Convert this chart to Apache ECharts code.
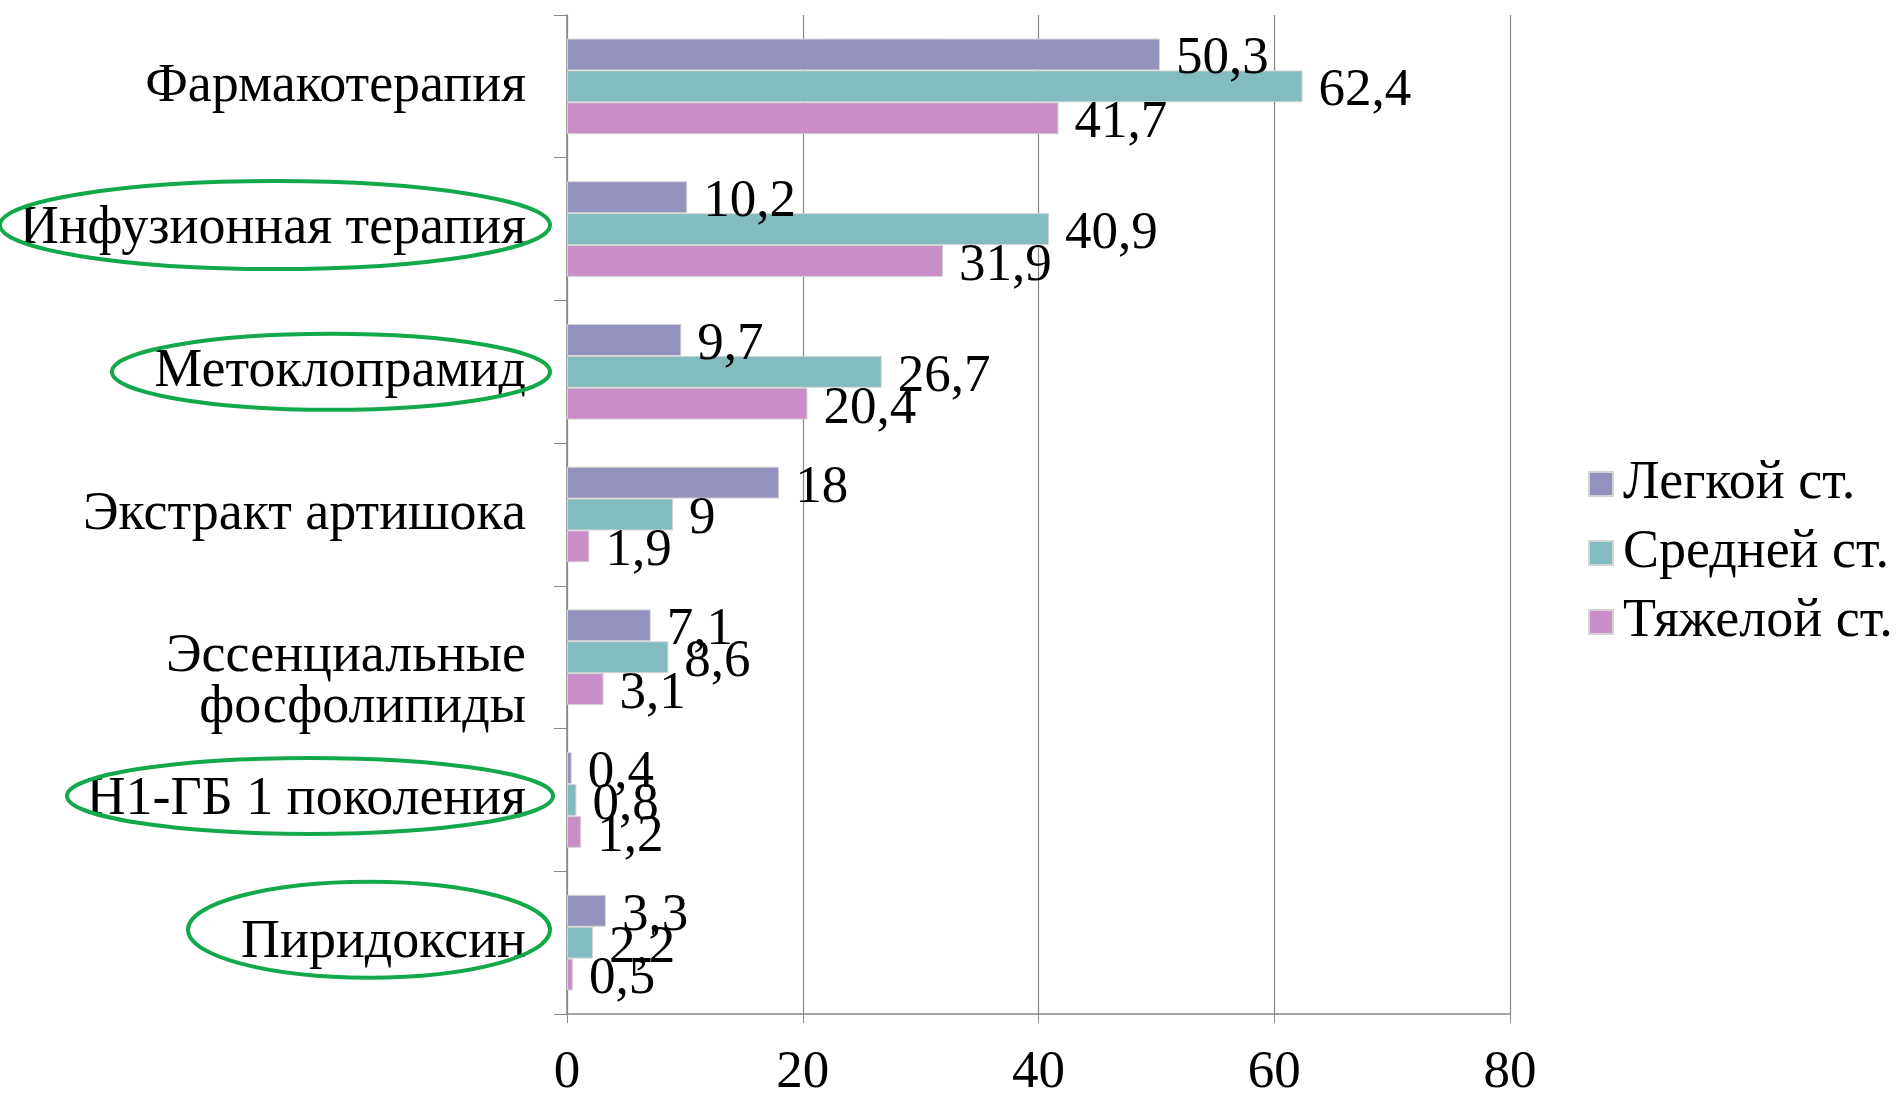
<!DOCTYPE html>
<html><head><meta charset="utf-8">
<script src="https://cdn.jsdelivr.net/npm/echarts@6/dist/echarts.min.js"></script>
<style>html,body{margin:0;padding:0;background:#fff}#c{width:1897px;height:1094px}</style>
</head><body><div id="c"></div>
<script>
const categories = ['Фармакотерапия','Инфузионная терапия','Метоклопрамид','Экстракт артишока','Эссенциальные\nфосфолипиды','Н1-ГБ 1 поколения','Пиридоксин'];
const seriesNames = ['Легкой ст.','Средней ст.','Тяжелой ст.'];
const lightValues = [50.3, 10.2, 9.7, 18, 7.1, 0.4, 3.3];
const mediumValues = [62.4, 40.9, 26.7, 9, 8.6, 0.8, 2.2];
const severeValues = [41.7, 31.9, 20.4, 1.9, 3.1, 1.2, 0.5];
const xTicks = [0, 20, 40, 60, 80];
const highlighted = ['Инфузионная терапия','Метоклопрамид','Н1-ГБ 1 поколения','Пиридоксин'];

const FONT = '"Liberation Serif", "DejaVu Serif", serif';
const colors = ['#9391BE', '#83BCBF', '#C98DC8'];
const chart = echarts.init(document.getElementById('c'));

function mkSeries(name, data, color) {
  return {
    name, type: 'bar', data,
    barGap: '0%', barCategoryGap: '33%',
    itemStyle: { color, borderColor: '#d4d4d4', borderWidth: 1 },
    label: {
      show: true, position: 'right', distance: 16, offset: [0, 5],
      fontFamily: FONT, fontSize: 53, color: '#000',
      formatter: p => String(p.value).replace('.', ',')
    },
    emphasis: { disabled: true }
  };
}

chart.setOption({
  animation: false,
  backgroundColor: '#fff',
  textStyle: { fontFamily: FONT },
  grid: { left: 567, right: 387, top: 15, bottom: 80, containLabel: false, outerBoundsMode: 'none' },
  legend: {
    orient: 'vertical', left: 1583, top: 452,
    itemWidth: 24, itemHeight: 24, itemGap: 15,
    icon: 'rect',
    textStyle: { fontFamily: FONT, fontSize: 54, color: '#000', padding: [0, 0, 0, 5] },
    data: seriesNames
  },
  xAxis: {
    type: 'value', min: xTicks[0], max: xTicks[xTicks.length - 1], interval: xTicks[1] - xTicks[0],
    axisLine: { show: true, lineStyle: { color: '#888', width: 1.5 } },
    axisTick: { show: true, length: 9, lineStyle: { color: '#888' } },
    splitLine: { show: true, lineStyle: { color: '#888', width: 1.2 } },
    axisLabel: { fontFamily: FONT, fontSize: 53, color: '#000', margin: 33 }
  },
  yAxis: {
    type: 'category', inverse: true, data: categories,
    axisLine: { show: true, lineStyle: { color: '#888', width: 1.5 } },
    axisTick: { show: true, length: 13, lineStyle: { color: '#888' } },
    axisLabel: {
      fontFamily: FONT, fontSize: 54, color: '#000', margin: 41, lineHeight: 51,
      formatter: v => (v.indexOf('\n') >= 0 ? '\n' + v : v)
    }
  },
  series: [
    mkSeries(seriesNames[0], lightValues, colors[0]),
    mkSeries(seriesNames[1], mediumValues, colors[1]),
    mkSeries(seriesNames[2], severeValues, colors[2])
  ]
});

// green annotation ellipses around highlighted category labels
const ellipseStyle = {
  'Инфузионная терапия': { cx: 275, rx: 275, ry: 44, dy: -4 },
  'Метоклопрамид': { cx: 331, rx: 219, ry: 38, dy: 0 },
  'Н1-ГБ 1 поколения': { cx: 310, rx: 243, ry: 38, dy: -4 },
  'Пиридоксин': { cx: 369, rx: 181, ry: 48, dy: -13 }
};
const graphics = highlighted.map(name => {
  const s = ellipseStyle[name];
  const y = chart.convertToPixel({ yAxisIndex: 0 }, name);
  return {
    type: 'ellipse', silent: true, z: 100,
    shape: { cx: s.cx, cy: y + s.dy, rx: s.rx, ry: s.ry },
    style: { fill: 'none', stroke: '#13A84A', lineWidth: 4 }
  };
});
chart.setOption({ graphic: graphics });
</script></body></html>
